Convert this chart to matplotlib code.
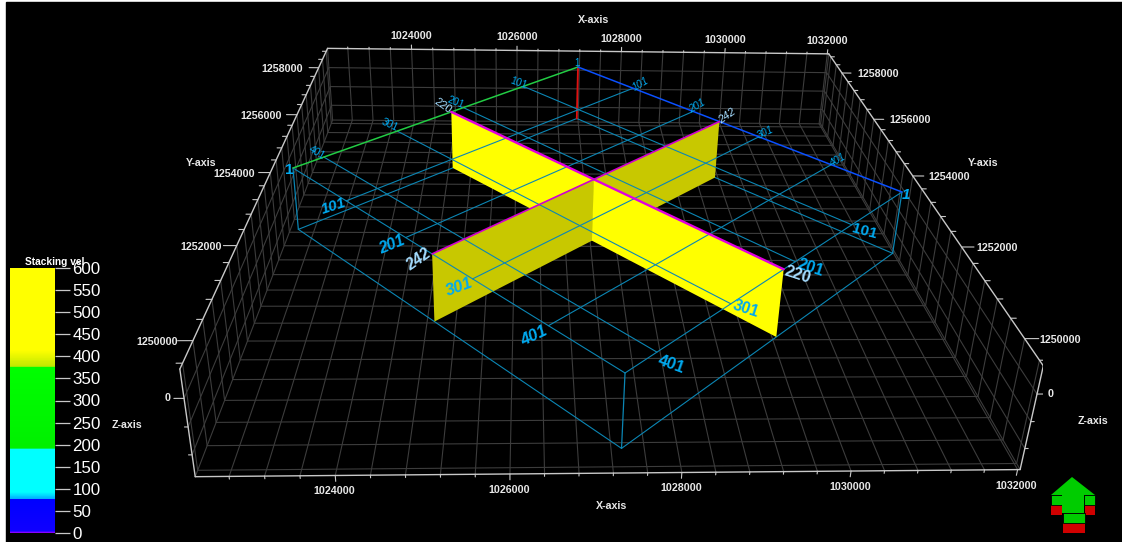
#!/usr/bin/python3

import numpy as np
import matplotlib
matplotlib.use('Agg')
from matplotlib import pyplot as plt
from matplotlib.colors import LinearSegmentedColormap
from matplotlib.patches import Polygon, Rectangle
from mpl_toolkits.mplot3d import proj3d
from mpl_toolkits.mplot3d.art3d import Poly3DCollection

plt.rcParams['font.family'] = 'Liberation Sans'

W, H = 1122, 542

# box of the 3d scene
xlim = (1022420, 1032030)
ylim = (1249500, 1258950)
zlim = (-1400, 500)

x_major = [1024000, 1026000, 1028000, 1030000, 1032000]
y_major = [1250000, 1252000, 1254000, 1256000, 1258000]
x_grid = list(range(1022800, 1032001, 400))
y_grid = list(range(1249600, 1258801, 400))
z_grid = [0, -500, -1000]
z_major = [0]

# survey corners, named by (inline, crossline)
inline_max = 440
xline_max = 490
corner_first = (1027181, 1259107)    # inline 1, xline 1
corner_xl_end = (1031986, 1254211)   # inline 1, last xline
corner_il_end = (1022544, 1254888)   # last inline, xline 1
corner_both = (1027327, 1249903)     # last inline, last xline
line_numbers = [101, 201, 301, 401]
section_inline = 220
section_xline = 242
survey_z = 0

# colorbar
cbar_ticks = [0, 50, 100, 150, 200, 250, 300, 350, 400, 450, 500, 550, 600]
cbar_values = [0, 4, 76, 78, 92, 190, 192, 376, 378, 414, 600]
cbar_colors = ['#b000ff', '#1000ff', '#0000ff', '#00b0ff', '#00ffff', '#00ffff',
               '#00f000', '#00ff00', '#c0e800', '#ffff00', '#ffff00']

# camera fitted to the box corners
elev, azim, roll = 25.9123, -93.6043, -1.7814
focal = 0.2445
box_aspect = (0.9042, 1.0302, 0.1371)
scale, cx, cy = 4992.284, 594.111, 210.491

GRID = '#3c3c3c'
EDGE = '#c8c8c8'
LINE = '#0b86b4'
LABEL = '#00aaf0'
PALE = '#a4dcff'

fig = plt.figure(figsize=(W / 100, H / 100), dpi=100, facecolor='white')
fig.add_artist(Rectangle((6 / W, 0), (W - 6) / W, (H - 2) / H, transform=fig.transFigure,
                         color='black', zorder=-10))

ax = fig.add_subplot(projection='3d', computed_zorder=False)
ax.set_xlim(*xlim)
ax.set_ylim(*ylim)
ax.set_zlim(*zlim)
ax.margins(0)
ax.view_init(elev, azim, roll)
ax.set_proj_type('persp', focal_length=focal)
ax.set_box_aspect(box_aspect, zoom=1)
ax.set_axis_off()
ax.patch.set_visible(False)

vl = ax.viewLim
side = scale * vl.width
left = cx + scale * vl.x0
top = cy - scale * vl.y1
ax.set_position([left / W, 1 - (top + side) / H, side / W, side / H])
M = ax.get_proj()


def seg(p, q, color=GRID, lw=0.8, z=1):
    ax.plot([p[0], q[0]], [p[1], q[1]], [p[2], q[2]], color=color, linewidth=lw, zorder=z,
            solid_capstyle='round')


def survey_xy(il, xl):
    a = (il - 1) / (inline_max - 1)
    b = (xl - 1) / (xline_max - 1)
    first, xe, ie, both = [np.array(c, float) for c in
                           (corner_first, corner_xl_end, corner_il_end, corner_both)]
    return (1 - a) * ((1 - b) * first + b * xe) + a * ((1 - b) * ie + b * both)


def survey_pt(il, xl, z):
    xy = survey_xy(il, xl)
    return (xy[0], xy[1], z)


def place(txt, p, dx, dy, **kw):
    u, v, _ = proj3d.proj_transform(p[0], p[1], p[2], M)
    ax.annotate(txt, (float(u), float(v)), xytext=(dx, dy), textcoords='offset pixels',
                ha='center', va='center', annotation_clip=False, zorder=20, **kw)


# grid on floor and walls
for x in x_grid:
    seg((x, ylim[0], zlim[0]), (x, ylim[1], zlim[0]))
    seg((x, ylim[1], zlim[0]), (x, ylim[1], zlim[1]))
for y in y_grid:
    seg((xlim[0], y, zlim[0]), (xlim[1], y, zlim[0]))
    seg((xlim[0], y, zlim[0]), (xlim[0], y, zlim[1]))
    seg((xlim[1], y, zlim[0]), (xlim[1], y, zlim[1]))
for z in z_grid:
    seg((xlim[0], ylim[1], z), (xlim[1], ylim[1], z))
    seg((xlim[0], ylim[0], z), (xlim[0], ylim[1], z))
    seg((xlim[1], ylim[0], z), (xlim[1], ylim[1], z))
seg((xlim[0], ylim[1], zlim[0]), (xlim[1], ylim[1], zlim[0]))
seg((xlim[0], ylim[0], zlim[0]), (xlim[0], ylim[1], zlim[0]))
seg((xlim[1], ylim[0], zlim[0]), (xlim[1], ylim[1], zlim[0]))
seg((xlim[0], ylim[1], zlim[0]), (xlim[0], ylim[1], zlim[1]))
seg((xlim[1], ylim[1], zlim[0]), (xlim[1], ylim[1], zlim[1]))

# bright edges of the box
seg((xlim[0], ylim[0], zlim[0]), (xlim[1], ylim[0], zlim[0]), EDGE, 1, 2)
seg((xlim[0], ylim[1], zlim[1]), (xlim[1], ylim[1], zlim[1]), EDGE, 1, 2)
seg((xlim[0], ylim[0], zlim[1]), (xlim[0], ylim[1], zlim[1]), EDGE, 1, 2)
seg((xlim[1], ylim[0], zlim[1]), (xlim[1], ylim[1], zlim[1]), EDGE, 1, 2)
seg((xlim[0], ylim[0], zlim[0]), (xlim[0], ylim[0], zlim[1]), EDGE, 1, 2)
seg((xlim[1], ylim[0], zlim[0]), (xlim[1], ylim[0], zlim[1]), EDGE, 1, 2)

# ticks on the bright edges
for x in x_grid:
    big = x in x_major
    seg((x, ylim[0], zlim[0]), (x, ylim[0], zlim[0] - (110 if big else 50)), EDGE, 0.8, 2)
    seg((x, ylim[1], zlim[1]), (x, ylim[1], zlim[1] + (110 if big else 40)), EDGE, 0.8, 2)
for y in y_grid:
    big = y in y_major
    seg((xlim[0], y, zlim[1]), (xlim[0] - (170 if big else 70), y, zlim[1]), EDGE, 0.8, 2)
    seg((xlim[1], y, zlim[1]), (xlim[1] + (170 if big else 70), y, zlim[1]), EDGE, 0.8, 2)
for z in z_grid:
    big = z in z_major
    seg((xlim[0], ylim[0], z), (xlim[0] - (110 if big else 40), ylim[0], z), EDGE, 0.8, 2)
    seg((xlim[1], ylim[0], z), (xlim[1] + (110 if big else 40), ylim[0], z), EDGE, 0.8, 2)

# survey frame, bottom first so that the sections cover it
zb = zlim[0]
frame = [(1, 1), (1, xline_max), (inline_max, xline_max), (inline_max, 1)]
for k in range(4):
    seg(survey_pt(*frame[k], zb), survey_pt(*frame[(k + 1) % 4], zb), LINE, 0.8, 3)

# the two sections, back halves before front halves
cross = (section_inline, section_xline)
sections = [
    ((1, section_xline), '#c8c800', 4),
    ((section_inline, 1), '#ffff00', 5),
    ((inline_max, section_xline), '#c8c800', 6),
    ((section_inline, xline_max), '#ffff00', 7),
]
for end, color, order in sections:
    quad = [survey_pt(*end, survey_z), survey_pt(*cross, survey_z),
            survey_pt(*cross, zb), survey_pt(*end, zb)]
    ax.add_collection3d(Poly3DCollection([quad], facecolors=color, edgecolors='none',
                                         zorder=order), autolim=False)

# vertical edges of the frame
seg(survey_pt(1, xline_max, survey_z), survey_pt(1, xline_max, zb), LINE, 0.9, 8)
seg(survey_pt(inline_max, 1, survey_z), survey_pt(inline_max, 1, zb), LINE, 0.9, 8)
seg(survey_pt(inline_max, xline_max, survey_z), survey_pt(inline_max, xline_max, zb), LINE, 0.9, 8)
seg(survey_pt(1, 1, survey_z), survey_pt(1, 1, zb), '#e01010', 1.3, 8)

# lines on top of the survey
for n in line_numbers:
    seg(survey_pt(n, 1, survey_z), survey_pt(n, xline_max, survey_z), LINE, 0.8, 9)
    seg(survey_pt(1, n, survey_z), survey_pt(inline_max, n, survey_z), LINE, 0.8, 9)
seg(survey_pt(inline_max, 1, survey_z), survey_pt(inline_max, xline_max, survey_z), LINE, 0.8, 9)
seg(survey_pt(1, xline_max, survey_z), survey_pt(inline_max, xline_max, survey_z), LINE, 0.8, 9)
seg(survey_pt(1, 1, survey_z), survey_pt(inline_max, 1, survey_z), '#22cc44', 1.1, 10)
seg(survey_pt(1, 1, survey_z), survey_pt(1, xline_max, survey_z), '#0a50ff', 1.1, 10)
seg(survey_pt(section_inline, 1, survey_z), survey_pt(section_inline, xline_max, survey_z),
    '#e000e0', 1.7, 11)
seg(survey_pt(1, section_xline, survey_z), survey_pt(inline_max, section_xline, survey_z),
    '#d000d0', 1.2, 11)

# line numbers along the frame: (text, point, dx, dy, rotation, size, colour, style, weight)
labels = [
    ('1', (1, 1), -1, 4, 0, 7, LABEL, 'normal', 'normal'),
    ('101', (101, 1), -5, 3, -20, 7.5, LABEL, 'normal', 'normal'),
    ('201', (201, 1), -8, 5, -22, 7.5, LABEL, 'normal', 'normal'),
    ('220', (220, 1), -9, 6, -35, 8, PALE, 'normal', 'normal'),
    ('301', (301, 1), -7, 6, -25, 7.5, LABEL, 'normal', 'normal'),
    ('401', (401, 1), -7, 4, -30, 7.5, LABEL, 'normal', 'normal'),
    ('1', (inline_max, 1), -4, -2, 0, 11, LABEL, 'normal', 'bold'),
    ('101', (1, 101), 8, 4, 30, 7.5, LABEL, 'italic', 'normal'),
    ('201', (1, 201), 4, 5, 30, 7.5, LABEL, 'italic', 'normal'),
    ('242', (1, 242), 8, 5, 35, 8, PALE, 'italic', 'normal'),
    ('301', (1, 301), 6, 4, 25, 7.5, LABEL, 'italic', 'normal'),
    ('401', (1, 401), 7, 5, 30, 7.5, LABEL, 'italic', 'normal'),
    ('1', (1, xline_max), 4, -3, 0, 11, LABEL, 'italic', 'bold'),
    ('101', (inline_max, 101), -13, -5, 18, 11, LABEL, 'italic', 'bold'),
    ('201', (inline_max, 201), -14, -7, 22, 11.5, LABEL, 'italic', 'bold'),
    ('242', (inline_max, 242), -14, -6, 35, 11.5, PALE, 'italic', 'bold'),
    ('301', (inline_max, 301), -13, -8, 20, 12, LABEL, 'italic', 'bold'),
    ('401', (inline_max, 401), -14, -10, 25, 12, LABEL, 'italic', 'bold'),
    ('101', (101, xline_max), 12, -7, -15, 11, LABEL, 'normal', 'bold'),
    ('201', (201, xline_max), 15, -6, -18, 11.5, LABEL, 'normal', 'bold'),
    ('220', (220, xline_max), 14, -6, -18, 11.5, PALE, 'normal', 'bold'),
    ('301', (301, xline_max), 15, -5, -18, 11.5, LABEL, 'normal', 'bold'),
    ('401', (401, xline_max), 14, -12, -20, 12, LABEL, 'normal', 'bold'),
]
for txt, (il, xl), dx, dy, rot, size, col, sty, wgt in labels:
    place(txt, survey_pt(il, xl, survey_z), dx, dy, rotation=rot, rotation_mode='anchor',
          fontsize=size, color=col, style=sty, fontweight=wgt)

# tick labels of the box
tick_font = dict(fontsize=7.7, color='#e8e8e8', fontweight='bold')
for x in x_major:
    place(str(x), (x, ylim[0], zlim[0]), -1, -16, **tick_font)
    place(str(x), (x, ylim[1], zlim[1]), 0, 13, **tick_font)
for y in y_major:
    place(str(y), (xlim[0], y, zlim[1]), -36, -1, **tick_font)
    place(str(y), (xlim[1], y, zlim[1]), 36, -1, **tick_font)
place('0', (xlim[0], ylim[0], 0), -16, 0, **tick_font)
place('0', (xlim[1], ylim[0], 0), 14, 0, **tick_font)

# axis names
axis_names = [('X-axis', 594, 20), ('X-axis', 612, 506), ('Y-axis', 201, 163),
              ('Y-axis', 983, 163), ('Z-axis', 127, 425), ('Z-axis', 1093, 421)]
for name, px, py in axis_names:
    fig.text(px / W, 1 - py / H, name, ha='center', va='center', **tick_font)

# colorbar
cax = fig.add_axes([10 / W, 1 - 533 / H, 45 / W, 265 / H], zorder=5)
stops = [v / cbar_values[-1] for v in cbar_values]
cmap = LinearSegmentedColormap.from_list('stack', list(zip(stops, cbar_colors)), N=600)
grad = np.linspace(0, 600, 601).reshape(-1, 1)
cax.imshow(grad, origin='lower', aspect='auto', cmap=cmap, vmin=0, vmax=600,
           extent=(0, 1, 0, 600), interpolation='nearest')
cax.set_xticks([])
cax.set_yticks(cbar_ticks)
cax.yaxis.tick_right()
cax.tick_params(axis='y', length=11, width=0.9, color='#c8c8c8', labelcolor='white',
                labelsize=12.2, pad=1.5)
for sp in cax.spines.values():
    sp.set_visible(False)
fig.text(54.5 / W, 1 - 262 / H, 'Stacking vel', ha='center', va='center', color='white',
         fontsize=7.3, fontweight='bold', zorder=6)

# orientation arrow in the corner
wax = fig.add_axes([1030 / W, 0, 92 / W, 82 / H], zorder=5)
wax.set_xlim(0, 92)
wax.set_ylim(82, 0)
wax.axis('off')
wax.add_patch(Rectangle((21, 45), 11, 10, fc='#d00000', ec='none'))
wax.add_patch(Rectangle((55, 45), 10, 10, fc='#d00000', ec='none'))
wax.add_patch(Rectangle((33, 63), 22, 10, fc='#d00000', ec='none'))
wax.add_patch(Rectangle((21, 35), 11, 10, fc='#00cc00', ec='black', lw=0.6))
wax.add_patch(Rectangle((54, 35), 11, 10, fc='#00cc00', ec='black', lw=0.6))
wax.add_patch(Polygon([(42, 17), (21, 35), (32, 35), (32, 53), (54, 53), (54, 35), (65, 35)],
                      closed=True, fc='#00cc00', ec='none'))
wax.add_patch(Rectangle((33, 53), 22, 10, fc='#00cc00', ec='black', lw=0.6))

fig.savefig('out.png', dpi=100, facecolor=fig.get_facecolor())
